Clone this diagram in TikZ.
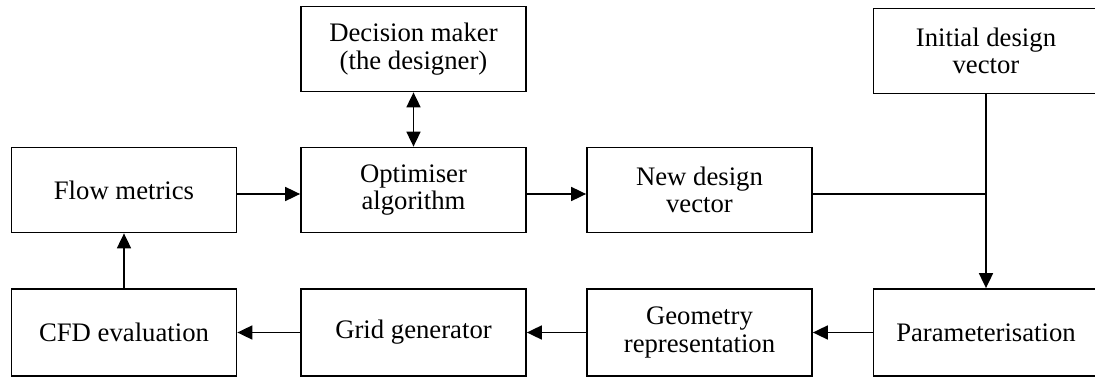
\documentclass[tikz,border=0pt]{standalone}
\usepackage{fontspec}
\setmainfont{Liberation Serif}
\usepackage{tikz}
\usetikzlibrary{arrows.meta, positioning, calc}

\begin{document}
\begin{tikzpicture}[
        >=Triangle, font=\fontsize{15.2}{15.6}\selectfont,
        blk/.style={draw, line width=1pt, minimum width=4.5cm, minimum height=1.7cm,
                    align=center, inner sep=2pt},
        a/.style={-{Triangle[length=3mm, width=2.8mm]}, line width=1pt},
        aa/.style={{Triangle[length=3mm, width=2.8mm]}-{Triangle[length=3mm, width=2.8mm]}, line width=1pt},
      ]
        \useasboundingbox (0,0) rectangle (21.9,7.56);
        % top row
        \node[blk] (dm) at (8.27,6.58) {Decision maker\\(the designer)};
        \node[blk] (init) at (19.72,6.54) {Initial design\\vector};
        % middle row
        \node[blk] (flow) at (2.48,3.76) {Flow metrics};
        \node[blk] (opt) at (8.27,3.76) {Optimiser\\algorithm};
        \node[blk] (new) at (13.99,3.76) {New design\\vector};
        % bottom row
        \node[blk, minimum height=1.74cm] (cfd) at (2.48,0.91) {CFD evaluation};
        \node[blk, minimum height=1.74cm] (grid) at (8.27,0.91) {Grid generator};
        \node[blk, minimum height=1.74cm] (geom) at (13.99,0.91) {Geometry\\representation};
        \node[blk, minimum height=1.74cm] (par) at (19.72,0.91) {Parameterisation};
        % loop
        \draw[a] ([yshift=-0.08cm]flow.east) -- ([yshift=-0.08cm]opt.west);
        \draw[a] ([yshift=-0.08cm]opt.east) -- ([yshift=-0.08cm]new.west);
        \draw[aa] (dm.south) -- (opt.north);
        \draw[line width=1pt] ([yshift=-0.08cm]new.east) -- ([yshift=-0.08cm]new.east -| init.south);
        \draw[a] (init.south) -- (par.north);
        \draw[a] (par.west) -- (geom.east);
        \draw[a] (geom.west) -- (grid.east);
        \draw[a] (grid.west) -- (cfd.east);
        \draw[a] (cfd.north) -- (flow.south);
      \end{tikzpicture}
\end{document}
